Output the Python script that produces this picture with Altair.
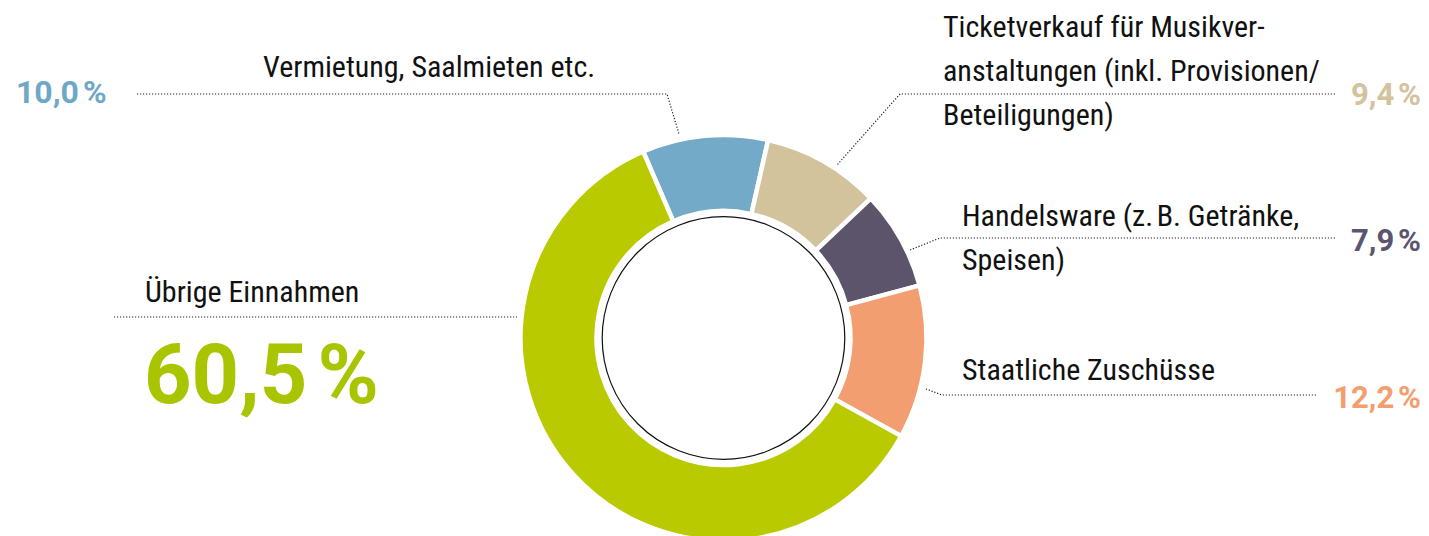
import math
import altair as alt
import pandas as pd

# ---- data ----
keys = ["Vermietung", "Ticketverkauf", "Handelsware", "Staatliche", "Uebrige"]
shares = [10.0, 9.4, 7.9, 12.2, 60.5]
pct_text = ["10,0\u202f%", "9,4\u202f%", "7,9\u202f%", "12,2\u202f%", "60,5\u202f%"]
ring_colors = ["#72AAC8", "#D2C39D", "#5B546B", "#F29E70", "#B9CA00"]
pct_colors = ["#6FA8C6", "#D3C29C", "#5B5670", "#F29E6E", "#A9C400"]
label_lines = [
    ["Vermietung, Saalmieten etc."],
    ["Ticketverkauf für Musikver-", "anstaltungen (inkl. Provisionen/", "Beteiligungen)"],
    ["Handelsware (z.\u202fB. Getränke,", "Speisen)"],
    ["Staatliche Zuschüsse"],
    ["Übrige Einnahmen"],
]

# ---- layout (chart pixel coordinates) ----
CX, CY = 715.5, 330.0
R_OUT, R_IN, R_CIRCLE = 203, 127, 121.3
START = math.radians(-23.3) + 2 * math.pi
label_pos = [
    [(255, 69)],
    [(935, 29), (935, 73), (935, 117)],
    [(954, 218), (954, 262)],
    [(954, 372)],
    [(137, 294)],
]
pct_pos = [(8, 95, "left"), (1413, 97, "right"), (1413, 243, "right"), (1413, 400, "right"), (136, 395, "left")]
leaders = [
    [(129, 86), (659, 86), (671, 126)],
    [(1327, 86), (892, 86), (829, 157)],
    [(1327, 230), (932, 230), (902, 242)],
    [(1308, 387), (934, 387), (918, 381)],
    [(106, 309), (509, 309)],
]

LABEL_FONT = "Roboto Condensed, Liberation Sans, sans-serif"
PCT_FONT = "Roboto, Liberation Sans, sans-serif"

# ---- tables ----
df = pd.DataFrame({"cat": keys, "share": shares, "ord": list(range(len(keys)))})

lab_rows = []
for i, lines in enumerate(label_lines):
    for j, t in enumerate(lines):
        x, y = label_pos[i][j]
        lab_rows.append({"text": t, "x": x, "y": y})
lab_df = pd.DataFrame(lab_rows)

pct_rows = []
for i, t in enumerate(pct_text):
    x, y, al = pct_pos[i]
    pct_rows.append({"text": t, "x": x, "y": y, "align": al, "cat": keys[i]})
pct_df = pd.DataFrame(pct_rows)

lead_rows = []
for i, pts in enumerate(leaders):
    for j, (x, y) in enumerate(pts):
        lead_rows.append({"seg": keys[i], "idx": j, "x": x, "y": y})
lead_df = pd.DataFrame(lead_rows)

color_scale = alt.Scale(domain=keys, range=ring_colors)
pct_color_scale = alt.Scale(domain=keys, range=pct_colors)

ring = alt.Chart(df).mark_arc(
    radius=R_OUT, radius2=R_IN, stroke="white", strokeWidth=4.5
).encode(
    theta=alt.Theta("share:Q", stack=True,
                    scale=alt.Scale(domain=[0, 100], range=[START, START + 2 * math.pi])),
    color=alt.Color("cat:N", scale=color_scale, legend=None),
    order=alt.Order("ord:Q"),
    x=alt.value(CX),
    y=alt.value(CY),
)

circle = alt.Chart(pd.DataFrame({"k": [0]})).mark_point(
    shape="circle", filled=False, stroke="#111111", strokeWidth=1.2, opacity=1,
    size=(2 * R_CIRCLE) ** 2,
).encode(x=alt.value(CX), y=alt.value(CY))

lead = alt.Chart(lead_df).mark_line(
    color="#222222", strokeWidth=1.2, strokeDash=[1.2, 1.8]
).encode(
    x=alt.X("x:Q", scale=None, axis=None),
    y=alt.Y("y:Q", scale=None, axis=None),
    detail="seg:N",
    order="idx:Q",
)

labels = alt.Chart(lab_df).mark_text(
    font=LABEL_FONT, fontSize=30, align="left", baseline="alphabetic", color="#111111"
).encode(
    x=alt.X("x:Q", scale=None, axis=None),
    y=alt.Y("y:Q", scale=None, axis=None),
    text="text:N",
)

def pct_layer(sub, size, al):
    return alt.Chart(sub).mark_text(
        font=PCT_FONT, fontSize=size, fontWeight="bold", align=al, baseline="alphabetic"
    ).encode(
        x=alt.X("x:Q", scale=None, axis=None),
        y=alt.Y("y:Q", scale=None, axis=None),
        text="text:N",
        color=alt.Color("cat:N", scale=pct_color_scale, legend=None),
    )

small_left = pct_layer(pct_df[(pct_df["align"] == "left") & (pct_df["cat"] != "Uebrige")], 32, "left")
small_right = pct_layer(pct_df[pct_df["align"] == "right"], 31, "right")
big = pct_layer(pct_df[pct_df["cat"] == "Uebrige"], 83, "left")

chart = alt.layer(ring, circle, lead, labels, small_left, small_right, big).properties(
    width=1413, height=540, padding=0, autosize=alt.AutoSizeParams(type="none"),
    background="white",
).configure_view(stroke=None).resolve_scale(color="independent")

chart.save("out.html", embed_options={"renderer": "svg", "actions": False})
